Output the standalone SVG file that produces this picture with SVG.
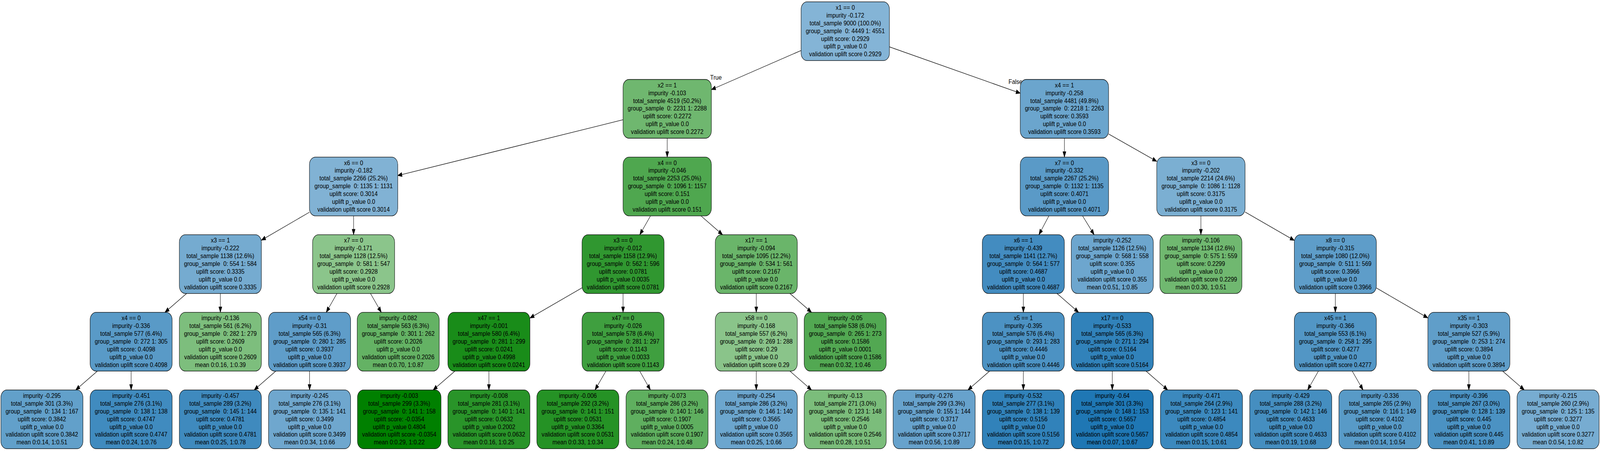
<svg xmlns="http://www.w3.org/2000/svg" width="5344" height="1155" viewBox="0 0 5344 1155" preserveAspectRatio="none" style="width:100vw;height:100vh;display:block">
<style>
.node rect{stroke:#000;stroke-width:1.3}
text{font-family:"Liberation Sans",Arial,Helvetica,sans-serif;font-size:16.7px;fill:#000;white-space:pre}
.node text{text-anchor:middle}
.edges line{stroke:#000;stroke-width:1.3;marker-end:url(#arr)}
</style>
<defs>
<marker id="arr" markerUnits="userSpaceOnUse" markerWidth="16" markerHeight="12" refX="14" refY="5.25" orient="auto" overflow="visible">
<path d="M0,0 L14,5.25 L0,10.5 z" fill="#000" stroke="#000" stroke-width="1"/>
</marker>
</defs>
<rect width="5344" height="1155" fill="#fff"/>
<g class="edges">
<line x1="2675.7" y1="129.3" x2="2376" y2="229.5"/>
<line x1="2970.7" y1="120" x2="3407.7" y2="238.7"/>
<line x1="2081" y1="306.7" x2="1328.5" y2="449.6"/>
<line x1="2228.5" y1="354" x2="2228.5" y2="402.3"/>
<line x1="3555.2" y1="354" x2="3555.2" y2="402.3"/>
<line x1="3702.7" y1="343.1" x2="3863.5" y2="413.2"/>
<line x1="1033.5" y1="543.5" x2="873" y2="615.1"/>
<line x1="1181" y1="552.8" x2="1181" y2="601.1"/>
<line x1="2172.7" y1="552.8" x2="2136.8" y2="601.1"/>
<line x1="2341.1" y1="552.8" x2="2413.4" y2="601.1"/>
<line x1="3503.3" y1="552.8" x2="3469.9" y2="601.1"/>
<line x1="3615.7" y1="552.8" x2="3654.5" y2="601.1"/>
<line x1="4011" y1="552.8" x2="4011" y2="601.1"/>
<line x1="4158.5" y1="542.9" x2="4323" y2="615.7"/>
<line x1="623.2" y1="751.6" x2="550.8" y2="799.9"/>
<line x1="736" y1="751.6" x2="736" y2="799.9"/>
<line x1="1125.4" y1="751.6" x2="1089.6" y2="799.9"/>
<line x1="1237.4" y1="751.6" x2="1273.6" y2="799.9"/>
<line x1="1944" y1="737.1" x2="1770" y2="814.4"/>
<line x1="2081" y1="751.6" x2="2081" y2="799.9"/>
<line x1="2526" y1="751.6" x2="2526" y2="799.9"/>
<line x1="2638.4" y1="751.6" x2="2710.6" y2="799.9"/>
<line x1="3418" y1="751.6" x2="3418" y2="799.9"/>
<line x1="3530.4" y1="751.6" x2="3602.6" y2="799.9"/>
<line x1="4460" y1="751.6" x2="4460" y2="799.9"/>
<line x1="4597" y1="737.4" x2="4769" y2="814.1"/>
<line x1="325.2" y1="950.4" x2="252.8" y2="998.7"/>
<line x1="438" y1="950.4" x2="438" y2="998.7"/>
<line x1="921.2" y1="950.4" x2="848.8" y2="998.7"/>
<line x1="1034" y1="950.4" x2="1034" y2="998.7"/>
<line x1="1519.4" y1="950.4" x2="1446.6" y2="998.7"/>
<line x1="1633" y1="950.4" x2="1633" y2="998.7"/>
<line x1="2023.8" y1="950.4" x2="1987.2" y2="998.7"/>
<line x1="2136.6" y1="950.4" x2="2172.4" y2="998.7"/>
<line x1="2526" y1="950.4" x2="2526" y2="998.7"/>
<line x1="2638.4" y1="950.4" x2="2710.6" y2="998.7"/>
<line x1="3305.2" y1="950.4" x2="3232.8" y2="998.7"/>
<line x1="3418" y1="950.4" x2="3418" y2="998.7"/>
<line x1="3715" y1="950.4" x2="3715" y2="998.7"/>
<line x1="3827.8" y1="950.4" x2="3900.2" y2="998.7"/>
<line x1="4403.6" y1="950.4" x2="4367.4" y2="998.7"/>
<line x1="4516.4" y1="950.4" x2="4552.6" y2="998.7"/>
<line x1="4906" y1="950.4" x2="4906" y2="998.7"/>
<line x1="5018.8" y1="950.4" x2="5091.2" y2="998.7"/>
<g transform="translate(2372,204) scale(1.144,1)"><text>True</text></g>
<g transform="translate(3368.3,215) scale(1.144,1)"><text>False</text></g>
</g>

<g id="n0" class="node" transform="translate(2823.2,4.7)"><rect x="-147.5" y="0" width="295" height="150.5" rx="20" ry="19" fill="#84b4d6"/><g transform="scale(1.144,1)"><text y="20.3">x1 == 0</text><text y="40.2">impurity -0.172</text><text y="60.1">total_sample 9000 (100.0%)</text><text y="80">group_sample  0: 4449 1: 4551</text><text y="99.9">uplift score: 0.2929</text><text y="119.8">uplift p_value 0.0</text><text y="139.7">validation uplift score 0.2929</text></g></g>

<g id="n1" class="node" transform="translate(2228.5,203.5)"><rect x="-147.5" y="0" width="295" height="150.5" rx="20" ry="19" fill="#6fb76f"/><g transform="scale(1.144,1)"><text y="20.3">x2 == 1</text><text y="40.2">impurity -0.103</text><text y="60.1">total_sample 4519 (50.2%)</text><text y="80">group_sample  0: 2231 1: 2288</text><text y="99.9">uplift score: 0.2272</text><text y="119.8">uplift p_value 0.0</text><text y="139.7">validation uplift score 0.2272</text></g></g>

<g id="n2" class="node" transform="translate(3555.2,203.5)"><rect x="-147.5" y="0" width="295" height="150.5" rx="20" ry="19" fill="#6ba5cd"/><g transform="scale(1.144,1)"><text y="20.3">x4 == 1</text><text y="40.2">impurity -0.258</text><text y="60.1">total_sample 4481 (49.8%)</text><text y="80">group_sample  0: 2218 1: 2263</text><text y="99.9">uplift score: 0.3593</text><text y="119.8">uplift p_value 0.0</text><text y="139.7">validation uplift score 0.3593</text></g></g>

<g id="n3" class="node" transform="translate(1181,402.3)"><rect x="-147.5" y="0" width="295" height="150.5" rx="20" ry="19" fill="#81b2d4"/><g transform="scale(1.144,1)"><text y="20.3">x6 == 0</text><text y="40.2">impurity -0.182</text><text y="60.1">total_sample 2266 (25.2%)</text><text y="80">group_sample  0: 1135 1: 1131</text><text y="99.9">uplift score: 0.3014</text><text y="119.8">uplift p_value 0.0</text><text y="139.7">validation uplift score 0.3014</text></g></g>

<g id="n4" class="node" transform="translate(2228.5,402.3)"><rect x="-147.5" y="0" width="295" height="150.5" rx="20" ry="19" fill="#4fa74f"/><g transform="scale(1.144,1)"><text y="20.3">x4 == 0</text><text y="40.2">impurity -0.046</text><text y="60.1">total_sample 2253 (25.0%)</text><text y="80">group_sample  0: 1096 1: 1157</text><text y="99.9">uplift score: 0.151</text><text y="119.8">uplift p_value 0.0</text><text y="139.7">validation uplift score 0.151</text></g></g>

<g id="n5" class="node" transform="translate(3555.2,402.3)"><rect x="-147.5" y="0" width="295" height="150.5" rx="20" ry="19" fill="#5a9ac7"/><g transform="scale(1.144,1)"><text y="20.3">x7 == 0</text><text y="40.2">impurity -0.332</text><text y="60.1">total_sample 2267 (25.2%)</text><text y="80">group_sample  0: 1132 1: 1135</text><text y="99.9">uplift score: 0.4071</text><text y="119.8">uplift p_value 0.0</text><text y="139.7">validation uplift score 0.4071</text></g></g>

<g id="n6" class="node" transform="translate(4011,402.3)"><rect x="-147.5" y="0" width="295" height="150.5" rx="20" ry="19" fill="#7bafd2"/><g transform="scale(1.144,1)"><text y="20.3">x3 == 0</text><text y="40.2">impurity -0.202</text><text y="60.1">total_sample 2214 (24.6%)</text><text y="80">group_sample  0: 1086 1: 1128</text><text y="99.9">uplift score: 0.3175</text><text y="119.8">uplift p_value 0.0</text><text y="139.7">validation uplift score 0.3175</text></g></g>

<g id="n7" class="node" transform="translate(736,601.1)"><rect x="-137" y="0" width="274" height="150.5" rx="20" ry="19" fill="#75abd0"/><g transform="scale(1.144,1)"><text y="20.3">x3 == 1</text><text y="40.2">impurity -0.222</text><text y="60.1">total_sample 1138 (12.6%)</text><text y="80">group_sample  0: 554 1: 584</text><text y="99.9">uplift score: 0.3335</text><text y="119.8">uplift p_value 0.0</text><text y="139.7">validation uplift score 0.3335</text></g></g>

<g id="n8" class="node" transform="translate(1181,601.1)"><rect x="-137" y="0" width="274" height="150.5" rx="20" ry="19" fill="#8bc58b"/><g transform="scale(1.144,1)"><text y="20.3">x7 == 0</text><text y="40.2">impurity -0.171</text><text y="60.1">total_sample 1128 (12.5%)</text><text y="80">group_sample  0: 581 1: 547</text><text y="99.9">uplift score: 0.2928</text><text y="119.8">uplift p_value 0.0</text><text y="139.7">validation uplift score 0.2928</text></g></g>

<g id="n9" class="node" transform="translate(2081,601.1)"><rect x="-137" y="0" width="274" height="150.5" rx="20" ry="19" fill="#309730"/><g transform="scale(1.144,1)"><text y="20.3">x3 == 0</text><text y="40.2">impurity -0.012</text><text y="60.1">total_sample 1158 (12.9%)</text><text y="80">group_sample  0: 562 1: 596</text><text y="99.9">uplift score: 0.0781</text><text y="119.8">uplift p_value 0.0035</text><text y="139.7">validation uplift score 0.0781</text></g></g>

<g id="n10" class="node" transform="translate(2526,601.1)"><rect x="-137" y="0" width="274" height="150.5" rx="20" ry="19" fill="#6ab56a"/><g transform="scale(1.144,1)"><text y="20.3">x17 == 1</text><text y="40.2">impurity -0.094</text><text y="60.1">total_sample 1095 (12.2%)</text><text y="80">group_sample  0: 534 1: 561</text><text y="99.9">uplift score: 0.2167</text><text y="119.8">uplift p_value 0.0</text><text y="139.7">validation uplift score 0.2167</text></g></g>

<g id="n11" class="node" transform="translate(3418,601.1)"><rect x="-137" y="0" width="274" height="150.5" rx="20" ry="19" fill="#438cc0"/><g transform="scale(1.144,1)"><text y="20.3">x6 == 1</text><text y="40.2">impurity -0.439</text><text y="60.1">total_sample 1141 (12.7%)</text><text y="80">group_sample  0: 564 1: 577</text><text y="99.9">uplift score: 0.4687</text><text y="119.8">uplift p_value 0.0</text><text y="139.7">validation uplift score 0.4687</text></g></g>

<g id="n12" class="node" transform="translate(3715,601.1)"><rect x="-137" y="0" width="274" height="150.5" rx="20" ry="19" fill="#6da6ce"/><g transform="scale(1.144,1)"><text y="20.3">impurity -0.252</text><text y="40.2">total_sample 1126 (12.5%)</text><text y="60.1">group_sample  0: 568 1: 558</text><text y="80">uplift score: 0.355</text><text y="99.9">uplift p_value 0.0</text><text y="119.8">validation uplift score 0.355</text><text y="139.7">mean 0:0.51, 1:0.85</text></g></g>

<g id="n13" class="node" transform="translate(4011,601.1)"><rect x="-137" y="0" width="274" height="150.5" rx="20" ry="19" fill="#70b870"/><g transform="scale(1.144,1)"><text y="20.3">impurity -0.106</text><text y="40.2">total_sample 1134 (12.6%)</text><text y="60.1">group_sample  0: 575 1: 559</text><text y="80">uplift score: 0.2299</text><text y="99.9">uplift p_value 0.0</text><text y="119.8">validation uplift score 0.2299</text><text y="139.7">mean 0:0.30, 1:0.51</text></g></g>

<g id="n14" class="node" transform="translate(4460,601.1)"><rect x="-137" y="0" width="274" height="150.5" rx="20" ry="19" fill="#5e9dc9"/><g transform="scale(1.144,1)"><text y="20.3">x8 == 0</text><text y="40.2">impurity -0.315</text><text y="60.1">total_sample 1080 (12.0%)</text><text y="80">group_sample  0: 511 1: 569</text><text y="99.9">uplift score: 0.3966</text><text y="119.8">uplift p_value 0.0</text><text y="139.7">validation uplift score 0.3966</text></g></g>

<g id="n15" class="node" transform="translate(438,799.9)"><rect x="-137" y="0" width="274" height="150.5" rx="20" ry="19" fill="#599ac7"/><g transform="scale(1.144,1)"><text y="20.3">x4 == 0</text><text y="40.2">impurity -0.336</text><text y="60.1">total_sample 577 (6.4%)</text><text y="80">group_sample  0: 272 1: 305</text><text y="99.9">uplift score: 0.4098</text><text y="119.8">uplift p_value 0.0</text><text y="139.7">validation uplift score 0.4098</text></g></g>

<g id="n16" class="node" transform="translate(736,799.9)"><rect x="-137" y="0" width="274" height="150.5" rx="20" ry="19" fill="#7dbe7d"/><g transform="scale(1.144,1)"><text y="20.3">impurity -0.136</text><text y="40.2">total_sample 561 (6.2%)</text><text y="60.1">group_sample  0: 282 1: 279</text><text y="80">uplift score: 0.2609</text><text y="99.9">uplift p_value 0.0</text><text y="119.8">validation uplift score 0.2609</text><text y="139.7">mean 0:0.16, 1:0.39</text></g></g>

<g id="n17" class="node" transform="translate(1034,799.9)"><rect x="-137" y="0" width="274" height="150.5" rx="20" ry="19" fill="#5f9dc9"/><g transform="scale(1.144,1)"><text y="20.3">x54 == 0</text><text y="40.2">impurity -0.31</text><text y="60.1">total_sample 565 (6.3%)</text><text y="80">group_sample  0: 280 1: 285</text><text y="99.9">uplift score: 0.3937</text><text y="119.8">uplift p_value 0.0</text><text y="139.7">validation uplift score 0.3937</text></g></g>

<g id="n18" class="node" transform="translate(1330,799.9)"><rect x="-137" y="0" width="274" height="150.5" rx="20" ry="19" fill="#64b264"/><g transform="scale(1.144,1)"><text y="20.3">impurity -0.082</text><text y="40.2">total_sample 563 (6.3%)</text><text y="60.1">group_sample  0: 301 1: 262</text><text y="80">uplift score: 0.2026</text><text y="99.9">uplift p_value 0.0</text><text y="119.8">validation uplift score 0.2026</text><text y="139.7">mean 0:0.70, 1:0.87</text></g></g>

<g id="n19" class="node" transform="translate(1633,799.9)"><rect x="-137" y="0" width="274" height="150.5" rx="20" ry="19" fill="#198c19"/><g transform="scale(1.144,1)"><text y="20.3">x47 == 1</text><text y="40.2">impurity -0.001</text><text y="60.1">total_sample 580 (6.4%)</text><text y="80">group_sample  0: 281 1: 299</text><text y="99.9">uplift score: 0.0241</text><text y="119.8">uplift p_value 0.4998</text><text y="139.7">validation uplift score 0.0241</text></g></g>

<g id="n20" class="node" transform="translate(2081,799.9)"><rect x="-137" y="0" width="274" height="150.5" rx="20" ry="19" fill="#3f9f3f"/><g transform="scale(1.144,1)"><text y="20.3">x47 == 0</text><text y="40.2">impurity -0.026</text><text y="60.1">total_sample 578 (6.4%)</text><text y="80">group_sample  0: 281 1: 297</text><text y="99.9">uplift score: 0.1143</text><text y="119.8">uplift p_value 0.0033</text><text y="139.7">validation uplift score 0.1143</text></g></g>

<g id="n21" class="node" transform="translate(2526,799.9)"><rect x="-137" y="0" width="274" height="150.5" rx="20" ry="19" fill="#8ac48a"/><g transform="scale(1.144,1)"><text y="20.3">x58 == 0</text><text y="40.2">impurity -0.168</text><text y="60.1">total_sample 557 (6.2%)</text><text y="80">group_sample  0: 269 1: 288</text><text y="99.9">uplift score: 0.29</text><text y="119.8">uplift p_value 0.0</text><text y="139.7">validation uplift score 0.29</text></g></g>

<g id="n22" class="node" transform="translate(2823,799.9)"><rect x="-137" y="0" width="274" height="150.5" rx="20" ry="19" fill="#52a852"/><g transform="scale(1.144,1)"><text y="20.3">impurity -0.05</text><text y="40.2">total_sample 538 (6.0%)</text><text y="60.1">group_sample  0: 265 1: 273</text><text y="80">uplift score: 0.1586</text><text y="99.9">uplift p_value 0.0001</text><text y="119.8">validation uplift score 0.1586</text><text y="139.7">mean 0:0.32, 1:0.46</text></g></g>

<g id="n23" class="node" transform="translate(3418,799.9)"><rect x="-137" y="0" width="274" height="150.5" rx="20" ry="19" fill="#4c92c3"/><g transform="scale(1.144,1)"><text y="20.3">x5 == 1</text><text y="40.2">impurity -0.395</text><text y="60.1">total_sample 576 (6.4%)</text><text y="80">group_sample  0: 293 1: 283</text><text y="99.9">uplift score: 0.4446</text><text y="119.8">uplift p_value 0.0</text><text y="139.7">validation uplift score 0.4446</text></g></g>

<g id="n24" class="node" transform="translate(3715,799.9)"><rect x="-137" y="0" width="274" height="150.5" rx="20" ry="19" fill="#3182ba"/><g transform="scale(1.144,1)"><text y="20.3">x17 == 0</text><text y="40.2">impurity -0.533</text><text y="60.1">total_sample 565 (6.3%)</text><text y="80">group_sample  0: 271 1: 294</text><text y="99.9">uplift score: 0.5164</text><text y="119.8">uplift p_value 0.0</text><text y="139.7">validation uplift score 0.5164</text></g></g>

<g id="n25" class="node" transform="translate(4460,799.9)"><rect x="-137" y="0" width="274" height="150.5" rx="20" ry="19" fill="#5296c5"/><g transform="scale(1.144,1)"><text y="20.3">x45 == 1</text><text y="40.2">impurity -0.366</text><text y="60.1">total_sample 553 (6.1%)</text><text y="80">group_sample  0: 258 1: 295</text><text y="99.9">uplift score: 0.4277</text><text y="119.8">uplift p_value 0.0</text><text y="139.7">validation uplift score 0.4277</text></g></g>

<g id="n26" class="node" transform="translate(4906,799.9)"><rect x="-137" y="0" width="274" height="150.5" rx="20" ry="19" fill="#609ec9"/><g transform="scale(1.144,1)"><text y="20.3">x35 == 1</text><text y="40.2">impurity -0.303</text><text y="60.1">total_sample 527 (5.9%)</text><text y="80">group_sample  0: 253 1: 274</text><text y="99.9">uplift score: 0.3894</text><text y="119.8">uplift p_value 0.0</text><text y="139.7">validation uplift score 0.3894</text></g></g>

<g id="n27" class="node" transform="translate(140,998.7)"><rect x="-137" y="0" width="274" height="150.5" rx="20" ry="19" fill="#62a0ca"/><g transform="scale(1.144,1)"><text y="20.3">impurity -0.295</text><text y="40.2">total_sample 301 (3.3%)</text><text y="60.1">group_sample  0: 134 1: 167</text><text y="80">uplift score: 0.3842</text><text y="99.9">uplift p_value 0.0</text><text y="119.8">validation uplift score 0.3842</text><text y="139.7">mean 0:0.14, 1:0.51</text></g></g>

<g id="n28" class="node" transform="translate(438,998.7)"><rect x="-137" y="0" width="274" height="150.5" rx="20" ry="19" fill="#408bbf"/><g transform="scale(1.144,1)"><text y="20.3">impurity -0.451</text><text y="40.2">total_sample 276 (3.1%)</text><text y="60.1">group_sample  0: 138 1: 138</text><text y="80">uplift score: 0.4747</text><text y="99.9">uplift p_value 0.0</text><text y="119.8">validation uplift score 0.4747</text><text y="139.7">mean 0:0.24, 1:0.76</text></g></g>

<g id="n29" class="node" transform="translate(736,998.7)"><rect x="-137" y="0" width="274" height="150.5" rx="20" ry="19" fill="#3f8abe"/><g transform="scale(1.144,1)"><text y="20.3">impurity -0.457</text><text y="40.2">total_sample 289 (3.2%)</text><text y="60.1">group_sample  0: 145 1: 144</text><text y="80">uplift score: 0.4781</text><text y="99.9">uplift p_value 0.0</text><text y="119.8">validation uplift score 0.4781</text><text y="139.7">mean 0:0.25, 1:0.78</text></g></g>

<g id="n30" class="node" transform="translate(1034,998.7)"><rect x="-137" y="0" width="274" height="150.5" rx="20" ry="19" fill="#6fa7ce"/><g transform="scale(1.144,1)"><text y="20.3">impurity -0.245</text><text y="40.2">total_sample 276 (3.1%)</text><text y="60.1">group_sample  0: 135 1: 141</text><text y="80">uplift score: 0.3499</text><text y="99.9">uplift p_value 0.0</text><text y="119.8">validation uplift score 0.3499</text><text y="139.7">mean 0:0.34, 1:0.66</text></g></g>

<g id="n31" class="node" transform="translate(1333.5,998.7)"><rect x="-139.5" y="0" width="279" height="150.5" rx="20" ry="19" fill="#008000"/><g transform="scale(1.144,1)"><text y="20.3">impurity -0.003</text><text y="40.2">total_sample 299 (3.3%)</text><text y="60.1">group_sample  0: 141 1: 158</text><text y="80">uplift score: -0.0354</text><text y="99.9">uplift p_value 0.4804</text><text y="119.8">validation uplift score -0.0354</text><text y="139.7">mean 0:0.29, 1:0.22</text></g></g>

<g id="n32" class="node" transform="translate(1633,998.7)"><rect x="-137" y="0" width="274" height="150.5" rx="20" ry="19" fill="#299429"/><g transform="scale(1.144,1)"><text y="20.3">impurity -0.008</text><text y="40.2">total_sample 281 (3.1%)</text><text y="60.1">group_sample  0: 140 1: 141</text><text y="80">uplift score: 0.0632</text><text y="99.9">uplift p_value 0.2002</text><text y="119.8">validation uplift score 0.0632</text><text y="139.7">mean 0:0.16, 1:0.25</text></g></g>

<g id="n33" class="node" transform="translate(1930,998.7)"><rect x="-137" y="0" width="274" height="150.5" rx="20" ry="19" fill="#259225"/><g transform="scale(1.144,1)"><text y="20.3">impurity -0.006</text><text y="40.2">total_sample 292 (3.2%)</text><text y="60.1">group_sample  0: 141 1: 151</text><text y="80">uplift score: 0.0531</text><text y="99.9">uplift p_value 0.3364</text><text y="119.8">validation uplift score 0.0531</text><text y="139.7">mean 0:0.33, 1:0.34</text></g></g>

<g id="n34" class="node" transform="translate(2228,998.7)"><rect x="-137" y="0" width="274" height="150.5" rx="20" ry="19" fill="#5faf5f"/><g transform="scale(1.144,1)"><text y="20.3">impurity -0.073</text><text y="40.2">total_sample 286 (3.2%)</text><text y="60.1">group_sample  0: 140 1: 146</text><text y="80">uplift score: 0.1907</text><text y="99.9">uplift p_value 0.0005</text><text y="119.8">validation uplift score 0.1907</text><text y="139.7">mean 0:0.24, 1:0.48</text></g></g>

<g id="n35" class="node" transform="translate(2526,998.7)"><rect x="-137" y="0" width="274" height="150.5" rx="20" ry="19" fill="#6ca6ce"/><g transform="scale(1.144,1)"><text y="20.3">impurity -0.254</text><text y="40.2">total_sample 286 (3.2%)</text><text y="60.1">group_sample  0: 146 1: 140</text><text y="80">uplift score: 0.3565</text><text y="99.9">uplift p_value 0.0</text><text y="119.8">validation uplift score 0.3565</text><text y="139.7">mean 0:0.25, 1:0.66</text></g></g>

<g id="n36" class="node" transform="translate(2823,998.7)"><rect x="-137" y="0" width="274" height="150.5" rx="20" ry="19" fill="#7bbd7b"/><g transform="scale(1.144,1)"><text y="20.3">impurity -0.13</text><text y="40.2">total_sample 271 (3.0%)</text><text y="60.1">group_sample  0: 123 1: 148</text><text y="80">uplift score: 0.2546</text><text y="99.9">uplift p_value 0.0</text><text y="119.8">validation uplift score 0.2546</text><text y="139.7">mean 0:0.28, 1:0.51</text></g></g>

<g id="n37" class="node" transform="translate(3120,998.7)"><rect x="-137" y="0" width="274" height="150.5" rx="20" ry="19" fill="#67a2cc"/><g transform="scale(1.144,1)"><text y="20.3">impurity -0.276</text><text y="40.2">total_sample 299 (3.3%)</text><text y="60.1">group_sample  0: 155 1: 144</text><text y="80">uplift score: 0.3717</text><text y="99.9">uplift p_value 0.0</text><text y="119.8">validation uplift score 0.3717</text><text y="139.7">mean 0:0.56, 1:0.89</text></g></g>

<g id="n38" class="node" transform="translate(3418,998.7)"><rect x="-137" y="0" width="274" height="150.5" rx="20" ry="19" fill="#3182ba"/><g transform="scale(1.144,1)"><text y="20.3">impurity -0.532</text><text y="40.2">total_sample 277 (3.1%)</text><text y="60.1">group_sample  0: 138 1: 139</text><text y="80">uplift score: 0.5156</text><text y="99.9">uplift p_value 0.0</text><text y="119.8">validation uplift score 0.5156</text><text y="139.7">mean 0:0.15, 1:0.72</text></g></g>

<g id="n39" class="node" transform="translate(3715,998.7)"><rect x="-137" y="0" width="274" height="150.5" rx="20" ry="19" fill="#1f77b4"/><g transform="scale(1.144,1)"><text y="20.3">impurity -0.64</text><text y="40.2">total_sample 301 (3.3%)</text><text y="60.1">group_sample  0: 148 1: 153</text><text y="80">uplift score: 0.5657</text><text y="99.9">uplift p_value 0.0</text><text y="119.8">validation uplift score 0.5657</text><text y="139.7">mean 0:0.07, 1:0.67</text></g></g>

<g id="n40" class="node" transform="translate(4013,998.7)"><rect x="-137" y="0" width="274" height="150.5" rx="20" ry="19" fill="#3c89be"/><g transform="scale(1.144,1)"><text y="20.3">impurity -0.471</text><text y="40.2">total_sample 264 (2.9%)</text><text y="60.1">group_sample  0: 123 1: 141</text><text y="80">uplift score: 0.4854</text><text y="99.9">uplift p_value 0.0</text><text y="119.8">validation uplift score 0.4854</text><text y="139.7">mean 0:0.15, 1:0.61</text></g></g>

<g id="n41" class="node" transform="translate(4311,998.7)"><rect x="-137" y="0" width="274" height="150.5" rx="20" ry="19" fill="#458ec0"/><g transform="scale(1.144,1)"><text y="20.3">impurity -0.429</text><text y="40.2">total_sample 288 (3.2%)</text><text y="60.1">group_sample  0: 142 1: 146</text><text y="80">uplift score: 0.4633</text><text y="99.9">uplift p_value 0.0</text><text y="119.8">validation uplift score 0.4633</text><text y="139.7">mean 0:0.19, 1:0.68</text></g></g>

<g id="n42" class="node" transform="translate(4609,998.7)"><rect x="-137" y="0" width="274" height="150.5" rx="20" ry="19" fill="#589ac7"/><g transform="scale(1.144,1)"><text y="20.3">impurity -0.336</text><text y="40.2">total_sample 265 (2.9%)</text><text y="60.1">group_sample  0: 116 1: 149</text><text y="80">uplift score: 0.4102</text><text y="99.9">uplift p_value 0.0</text><text y="119.8">validation uplift score 0.4102</text><text y="139.7">mean 0:0.14, 1:0.54</text></g></g>

<g id="n43" class="node" transform="translate(4906,998.7)"><rect x="-137" y="0" width="274" height="150.5" rx="20" ry="19" fill="#4b92c3"/><g transform="scale(1.144,1)"><text y="20.3">impurity -0.396</text><text y="40.2">total_sample 267 (3.0%)</text><text y="60.1">group_sample  0: 128 1: 139</text><text y="80">uplift score: 0.445</text><text y="99.9">uplift p_value 0.0</text><text y="119.8">validation uplift score 0.445</text><text y="139.7">mean 0:0.41, 1:0.89</text></g></g>

<g id="n44" class="node" transform="translate(5204,998.7)"><rect x="-137" y="0" width="274" height="150.5" rx="20" ry="19" fill="#77acd1"/><g transform="scale(1.144,1)"><text y="20.3">impurity -0.215</text><text y="40.2">total_sample 260 (2.9%)</text><text y="60.1">group_sample  0: 125 1: 135</text><text y="80">uplift score: 0.3277</text><text y="99.9">uplift p_value 0.0</text><text y="119.8">validation uplift score 0.3277</text><text y="139.7">mean 0:0.54, 1:0.82</text></g></g>
</svg>
